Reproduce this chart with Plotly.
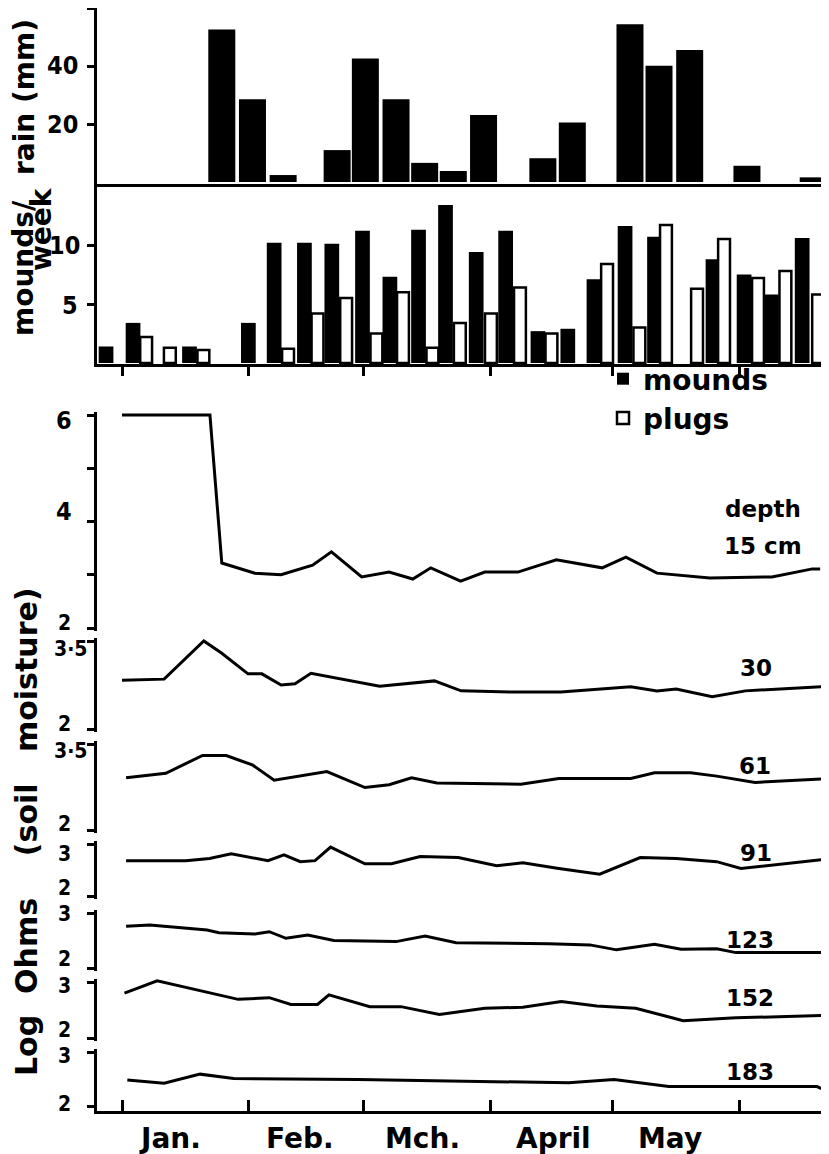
import plotly.graph_objects as go

W, H = 829, 1154
OFF = 8  # page body margin of the browser, compensated below

# ---------------- data (x = day of year, 0 = 1 Jan) ----------------
month_start_day = [0, 31, 59, 90, 120, 151]
month_label_day = [11.7, 43.5, 73.4, 105.4, 134.0]
month_labels = ["Jan.", "Feb.", "Mch.", "April", "May"]

rain_day = [24.4, 31.9, 39.4, 52.6, 59.5, 67.0, 74.0, 81.0, 88.4, 102.9, 110.1,
            124.2, 131.3, 138.8, 152.8, 169.0]
rain_mm = [52.6, 28.5, 2.4, 11.0, 42.6, 28.5, 6.6, 3.8, 23.1, 8.2, 20.5,
           54.4, 40.1, 45.5, 5.6, 1.6]

mound_day = [-3.9, 2.7, 16.5, 30.9, 37.2, 44.6, 51.3, 58.8, 65.5, 72.5, 79.1,
             86.6, 93.8, 101.7, 109.0, 115.4, 123.0, 130.2, 144.5, 152.1, 158.8, 166.3]
mounds = [1.4, 3.4, 1.4, 3.4, 10.2, 10.2, 10.1, 11.2, 7.3, 11.3, 13.4,
          9.4, 11.2, 2.7, 2.9, 7.1, 11.6, 10.7, 8.8, 7.5, 5.8, 10.6]

plug_day = [5.9, 11.7, 19.9, 40.6, 47.8, 54.8, 62.2, 68.7, 75.9, 82.6, 90.2,
            97.3, 105.0, 118.6, 126.5, 133.0, 140.6, 147.2, 155.5, 162.2, 170.2]
plugs = [2.2, 1.3, 1.1, 1.2, 4.2, 5.5, 2.5, 6.0, 1.3, 3.4, 4.2,
         6.4, 2.5, 8.4, 3.0, 11.7, 6.3, 10.5, 7.2, 7.8, 5.8]

d15_day = [0, 21.5, 24.4, 32.5, 38.9, 46.6, 51.2, 58.6, 65.3, 71.1, 75.5, 82.8,
           88.7, 96.8, 106.2, 117.4, 123.2, 130.8, 143.7, 158.9, 168.8, 170.7]
d15_val = [6.0, 6.0, 3.22, 3.03, 3.0, 3.18, 3.43, 2.96, 3.05, 2.92, 3.13, 2.88,
           3.05, 3.05, 3.28, 3.13, 3.33, 3.03, 2.94, 2.96, 3.11, 3.11]

d30_day = [0, 10.3, 20.0, 24.4, 30.8, 34.2, 38.9, 42.3, 46.2, 55.3, 63.0, 76.4,
           82.9, 95.1, 107.3, 124.4, 130.8, 135.5, 144.3, 152.4, 171.0]
d30_val = [2.83, 2.85, 3.5, 3.29, 2.94, 2.94, 2.75, 2.77, 2.95, 2.83, 2.73, 2.82,
           2.65, 2.63, 2.63, 2.72, 2.65, 2.68, 2.55, 2.65, 2.72]

d61_day = [1.0, 10.7, 19.7, 25.5, 32.0, 37.2, 50.1, 59.4, 65.3, 70.8, 77.0, 97.5,
           106.8, 124.4, 130.2, 139.0, 145.4, 154.8, 171.0]
d61_val = [2.91, 2.99, 3.30, 3.30, 3.13, 2.87, 3.02, 2.74, 2.79, 2.91, 2.82, 2.80,
           2.90, 2.90, 3.0, 3.0, 2.94, 2.83, 2.89]

d91_day = [1.0, 15.6, 21.4, 26.7, 35.7, 39.6, 43.6, 47.2, 51.0, 59.4, 65.9, 72.9,
           82.2, 91.6, 98.0, 106.8, 116.8, 126.7, 135.5, 145.4, 151.3, 171.5]
d91_val = [2.68, 2.68, 2.72, 2.81, 2.68, 2.79, 2.66, 2.68, 2.94, 2.62, 2.62, 2.76,
           2.74, 2.58, 2.64, 2.53, 2.42, 2.74, 2.72, 2.66, 2.53, 2.70]

d123_day = [1.0, 6.8, 20.8, 23.7, 32.5, 36.0, 40.1, 45.4, 51.8, 67.0, 74.1, 81.7,
            104.4, 114.4, 120.9, 130.2, 136.7, 145.4, 150.1, 171.5]
d123_val = [2.76, 2.78, 2.69, 2.64, 2.62, 2.66, 2.54, 2.60, 2.50, 2.48, 2.58, 2.46,
            2.44, 2.42, 2.33, 2.43, 2.34, 2.35, 2.28, 2.28]

d152_day = [0.6, 8.6, 28.4, 36.0, 41.3, 47.8, 50.6, 60.6, 68.2, 77.6, 88.7, 98.0,
            107.4, 116.1, 125.6, 137.2, 150.1, 171.0]
d152_val = [2.80, 3.02, 2.69, 2.72, 2.60, 2.60, 2.77, 2.56, 2.56, 2.42, 2.53, 2.55,
            2.65, 2.57, 2.53, 2.31, 2.36, 2.40]

d183_day = [1.3, 10.3, 19.1, 27.3, 57.7, 85.8, 109.2, 120.3, 133.7, 169.9, 171.5]
d183_val = [2.48, 2.42, 2.59, 2.51, 2.49, 2.46, 2.43, 2.49, 2.36, 2.36, 2.31]

depth_labels = ["15 cm", "30", "61", "91", "123", "152", "183"]

# ---------------- layout helpers ----------------
FONT = "DejaVu Sans"
NUMFONT = "Liberation Sans Narrow, Arial Narrow, DejaVu Sans Condensed, DejaVu Sans"
X_LEFT_PX, X_RIGHT_PX = 97, 829
PX_PER_DAY = 4.09
X0_PX = 122
x_range = [(X_LEFT_PX - X0_PX) / PX_PER_DAY, (X_RIGHT_PX - X0_PX) / PX_PER_DAY]


def xpaper(px):
    return (px - OFF) / W


def ypaper(py):
    return 1 - (py - OFF) / H


def clamp(v):
    return max(0.0, min(1.0, v))


x_domain = [clamp(xpaper(X_LEFT_PX)), clamp(xpaper(X_RIGHT_PX))]


def panel(a, pa, b, pb, top_px, bot_px):
    """value a sits at pixel pa, value b at pixel pb; returns domain, range."""
    k = (pb - pa) / (a - b)
    rtop = a + (pa - top_px) / k
    rbot = b - (bot_px - pb) / k
    return [clamp(ypaper(bot_px)), clamp(ypaper(top_px))], [rbot, rtop]


panels = [
    # name, (a, pa, b, pb, top, bot), tickvals
    ("rain", (40, 66, 20, 124, 8, 184), [20, 40, 60]),
    ("mnd", (10, 245, 5, 304, 186, 364), [5, 10]),
    ("d15", (6, 415, 2, 628, 412, 631), [2, 3, 4, 5, 6]),
    ("d30", (3.5, 641, 2, 729, 638, 732), [2, 3.5]),
    ("d61", (3.5, 744, 2, 830, 741, 833), [2, 3.5]),
    ("d91", (3, 844, 2, 896, 841, 899), [2, 3]),
    ("d123", (3, 913, 2, 968, 910, 971), [2, 3]),
    ("d152", (3, 982, 2, 1038, 979, 1041), [2, 3]),
    ("d183", (3, 1052, 2, 1106, 1049, 1111), [2, 3]),
]

# tick label texts, where they sit (right edge x px, centre y px) and font size
tick_texts = ["40", "20", "10", "5", "6", "4", "2", "3·5", "2", "3·5", "2",
              "3", "2", "3", "2", "3", "2", "3", "2"]
tick_text_pos = [(79, 65), (79, 124), (81, 245), (79, 305), (73, 420), (73, 511),
                 (72, 623), (88, 649), (72, 724), (88, 751), (72, 824),
                 (72, 854), (72, 888), (72, 914), (72, 959), (72, 986), (72, 1030),
                 (72, 1056), (72, 1104)]
tick_text_size = [25, 25, 25, 25, 25, 25, 21, 21, 21, 21, 21,
                  21, 21, 21, 21, 21, 21, 21, 21]

fig = go.Figure()
layout = dict(
    width=W, height=H, autosize=False,
    margin=dict(l=0, r=0, t=0, b=0, pad=0),
    paper_bgcolor="white", plot_bgcolor="white",
    barmode="overlay",
    font=dict(family=FONT, size=22, color="black", weight="bold"),
    showlegend=True,
    legend=dict(x=xpaper(603), y=ypaper(354), xanchor="left", yanchor="top",
                bgcolor="rgba(0,0,0,0)", font=dict(size=28, weight="bold"),
                tracegroupgap=0, itemwidth=30),
)

for i, (name, geo, tv) in enumerate(panels, start=1):
    dom, rng = panel(*geo)
    xa = "xaxis" if i == 1 else f"xaxis{i}"
    ya = "yaxis" if i == 1 else f"yaxis{i}"
    xref = "x" if i == 1 else f"x{i}"
    yref = "y" if i == 1 else f"y{i}"
    xax = dict(domain=x_domain, range=x_range, anchor=yref, showgrid=False,
               zeroline=False, showticklabels=False, fixedrange=True,
               showline=False, ticks="", automargin=False)
    if name == "rain":
        xax.update(showline=True, linewidth=2.5, linecolor="black")
    elif name == "mnd":
        xax.update(showline=True, linewidth=2.5, linecolor="black", ticks="outside",
                   tickmode="array", tickvals=month_start_day, ticklen=9,
                   tickwidth=2.5, tickcolor="black")
    elif name == "d183":
        xax.update(showline=True, linewidth=2.5, linecolor="black", ticks="inside",
                   tickmode="array", tickvals=month_start_day, ticklen=11,
                   tickwidth=2.5, tickcolor="black")
    yax = dict(domain=dom, range=rng, anchor=xref, showgrid=False, zeroline=False,
               showline=True, linewidth=2.5, linecolor="black", ticks="outside",
               ticklen=7, tickwidth=2.5, tickcolor="black", tickmode="array",
               tickvals=tv, showticklabels=False, fixedrange=True, automargin=False)
    layout[xa] = xax
    layout[ya] = yax

fig.update_layout(**layout)

# rain bars
fig.add_trace(go.Bar(x=rain_day, y=rain_mm, width=6.6,
                     marker=dict(color="black", line=dict(width=0)),
                     xaxis="x", yaxis="y", showlegend=False))
# mounds / plugs
fig.add_trace(go.Bar(x=mound_day, y=mounds, width=3.6, name="mounds", legendgroup="mp",
                     marker=dict(color="black", line=dict(width=0)), xaxis="x2", yaxis="y2"))
fig.add_trace(go.Bar(x=plug_day, y=plugs, width=2.9, name="plugs", legendgroup="mp",
                     marker=dict(color="white", line=dict(width=2.5, color="black")),
                     xaxis="x2", yaxis="y2"))

series = [(d15_day, d15_val), (d30_day, d30_val), (d61_day, d61_val), (d91_day, d91_val),
          (d123_day, d123_val), (d152_day, d152_val), (d183_day, d183_val)]
for j, (xd, yv) in enumerate(series):
    k = j + 3
    fig.add_trace(go.Scatter(x=xd, y=yv, mode="lines", line=dict(color="black", width=3),
                             xaxis=f"x{k}", yaxis=f"y{k}", showlegend=False))

ann = []


def text_at(t, px, py, size, xanchor="center", family=FONT, angle=0, align="center"):
    ann.append(dict(x=xpaper(px), y=ypaper(py), xref="paper", yref="paper", text=t,
                    showarrow=False, xanchor=xanchor, yanchor="middle", textangle=angle,
                    align=align, borderpad=0,
                    font=dict(size=size, family=family, weight="bold")))


# y tick labels
for t, (px, py), s in zip(tick_texts, tick_text_pos, tick_text_size):
    text_at(t, px, py, s, xanchor="right", family=NUMFONT)

# month labels (on the bottom time axis)
for d, t in zip(month_label_day, month_labels):
    ann.append(dict(x=d, y=ypaper(1138), xref="x9", yref="paper", text=t, showarrow=False,
                    font=dict(size=28, weight="bold"), xanchor="center", yanchor="middle"))

# axis titles
text_at("rain (mm)", 24, 97, 28, angle=-90)
text_at("mounds/", 23, 268, 28, angle=-90)
text_at("week", 42, 229, 28, angle=-90)
text_at("Log  Ohms    (soil   moisture)", 26, 832, 30, angle=-90)

# depth labels
text_at("depth", 763, 509, 23)
label_pos = [(763, 546), (756, 668), (755, 766), (756, 853), (750, 940), (750, 998), (750, 1072)]
for t, (px, py) in zip(depth_labels, label_pos):
    text_at(t, px, py, 23)

fig.update_layout(annotations=ann)
fig.write_html("out.html")
